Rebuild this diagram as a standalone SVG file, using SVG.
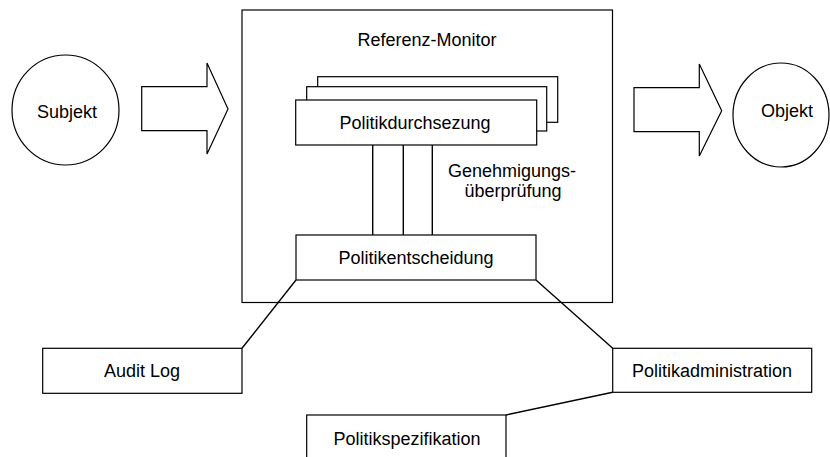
<svg xmlns="http://www.w3.org/2000/svg" width="830" height="457" viewBox="0 0 830 457">
  <style>
    .shape { fill: #fff; stroke: #000; stroke-width: 1.2; }
    .line { fill: none; stroke: #000; stroke-width: 1.4; }
    text { font-family: "Liberation Sans", Arial, Helvetica, sans-serif; font-size: 18px; fill: #000; text-anchor: middle; }
  </style>
  <rect width="830" height="457" fill="#fff"/>

  <!-- Reference monitor frame -->
  <g id="referenz-monitor">
    <rect class="shape" x="242" y="10" width="370.5" height="292.5"/>
    <text x="427" y="46">Referenz-Monitor</text>
  </g>

  <!-- Subject and its flow arrow -->
  <g id="subjekt">
    <ellipse class="shape" cx="65.5" cy="110" rx="53.5" ry="55"/>
    <text x="67" y="118">Subjekt</text>
  </g>
  <g id="pfeil-subjekt">
    <polygon class="shape" points="141.7,86.7 207,86.7 207,63 228,109 207,154 207,130.7 141.7,130.7"/>
  </g>

  <!-- Object and its flow arrow -->
  <g id="pfeil-objekt">
    <polygon class="shape" points="634,87.7 699.3,87.7 699.3,64 721.7,110.7 699.3,156 699.3,131.7 634,131.7"/>
  </g>
  <g id="objekt">
    <ellipse class="shape" cx="781" cy="115" rx="48" ry="52"/>
    <text x="787" y="117">Objekt</text>
  </g>

  <!-- Stacked enforcement points -->
  <g id="politikdurchsezung">
    <rect class="shape" x="317.7" y="76.7" width="240" height="45.6"/>
    <rect class="shape" x="306.7" y="86.7" width="240" height="44.3"/>
    <rect class="shape" x="295.7" y="100" width="241" height="45"/>
    <text x="415" y="128.5">Politikdurchsezung</text>
  </g>

  <g id="politikentscheidung">
    <rect class="shape" x="296" y="235" width="240" height="45"/>
    <text x="416" y="263.5">Politikentscheidung</text>
  </g>

  <g id="genehmigungspruefung">
    <text x="512" y="176.5">Genehmigungs-</text>
    <text x="513" y="197">überprüfung</text>
  </g>

  <g id="audit-log">
    <rect class="shape" x="42.7" y="348.3" width="199.3" height="45"/>
    <text x="142" y="377">Audit Log</text>
  </g>

  <g id="politikadministration">
    <rect class="shape" x="612.7" y="348.3" width="199" height="44"/>
    <text x="712" y="377">Politikadministration</text>
  </g>

  <g id="politikspezifikation">
    <rect class="shape" x="306.7" y="415" width="199.3" height="50"/>
    <text x="407" y="444.5">Politikspezifikation</text>
  </g>

  <!-- Connectors -->
  <g id="verbindungen">
    <line class="line" x1="372.7" y1="145" x2="372.7" y2="235"/>
    <line class="line" x1="403.3" y1="145" x2="403.3" y2="235"/>
    <line class="line" x1="432.3" y1="145" x2="432.3" y2="235"/>
    <line class="line" x1="296" y1="280" x2="242" y2="348.3"/>
    <line class="line" x1="536" y1="280" x2="612.7" y2="348.3"/>
    <line class="line" x1="612.7" y1="392.3" x2="506" y2="415"/>
  </g>
</svg>
